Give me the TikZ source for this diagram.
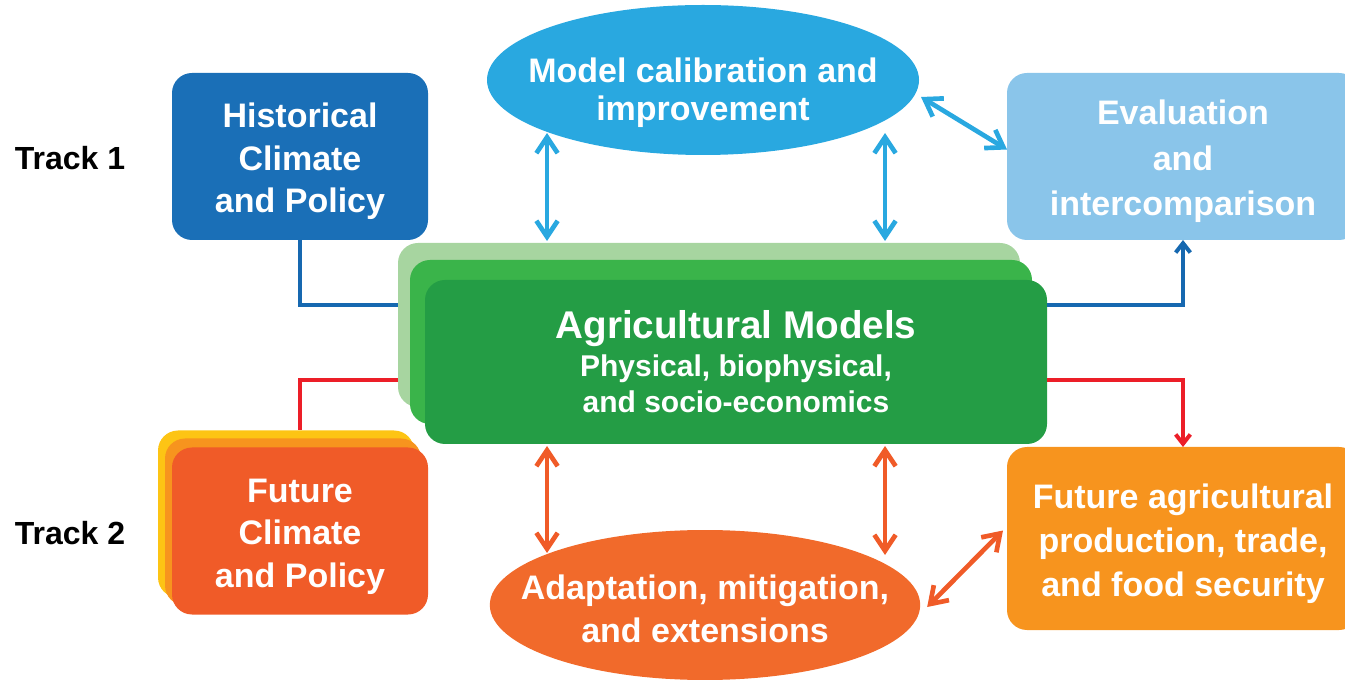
\documentclass[tikz,border=0pt]{standalone}
\usepackage{fontspec}
\setmainfont{Liberation Sans}
\usetikzlibrary{arrows.meta,calc,shapes.geometric}

\definecolor{histblue}{RGB}{26,111,183}
\definecolor{calibblue}{RGB}{41,168,224}
\definecolor{evalblue}{RGB}{138,197,234}
\definecolor{greenA}{RGB}{167,213,160}
\definecolor{greenB}{RGB}{58,180,74}
\definecolor{greenC}{RGB}{36,157,69}
\definecolor{yellowF}{RGB}{253,196,20}
\definecolor{orangeF}{RGB}{247,148,30}
\definecolor{redF}{RGB}{240,91,40}
\definecolor{adaptorange}{RGB}{241,106,43}
\definecolor{linkblue}{RGB}{22,104,176}
\definecolor{linkred}{RGB}{236,30,40}

\newcommand{\boxfont}{\bfseries\fontsize{25.5pt}{32pt}\selectfont}
\newcommand{\lowtext}{\rule{0pt}{26pt}}

\begin{document}
\begin{tikzpicture}[line cap=round,line join=round,>={Straight Barb[length=12pt,width=16pt]},x=0.75pt,y=-0.75pt,
	panel/.style={rounded corners=15pt,inner sep=0pt,outer sep=0pt,text=white,align=center,font=\boxfont,minimum width=192pt,minimum height=125.25pt},
	oval/.style={ellipse,inner ysep=0pt,outer sep=0pt,text=white,align=center,font=\boxfont,minimum width=322.5pt,minimum height=112.5pt},
	sheet/.style={rounded corners=15pt,inner sep=0pt,outer sep=0pt,minimum width=466.5pt,minimum height=123pt},
	track/.style={font=\bfseries\fontsize{24pt}{28pt}\selectfont},
	twoway/.style={<->,line width=3.5pt},
	link/.style={line width=3pt,line cap=butt,line join=miter},
	linktip/.style={-{Straight Barb[length=7pt,width=11pt]}}]
			\useasboundingbox (0,0) rectangle (1345,680);
			% left labels
			\node[track] (track1) at (70,158) {Track 1};
			\node[track] (track2) at (70,533) {Track 2};
			% track boxes
			\node[panel,fill=histblue] (hist) at (300,156.5) {\lowtext Historical\\Climate\\and Policy};
			\node[panel,fill=yellowF] (future1) at (286,514) {};
			\node[panel,fill=orangeF] (future2) at (293,522) {};
			\node[panel,fill=redF] (future3) at (300,531) {\lowtext Future\\Climate\\and Policy};
			% model stack
			\node[sheet,fill=greenA] (models1) at (709,325) {};
			\node[sheet,fill=greenB] (models2) at (721,342) {};
			\node[sheet,fill=greenC,text=white,align=center,font=\bfseries\fontsize{22.5pt}{27pt}\selectfont] (models3) at (736,362) {{\fontsize{29pt}{34pt}\selectfont Agricultural Models}\\[1.5pt]Physical, biophysical,\\and socio-economics};
			% ovals
			\node[oval,fill=calibblue,inner xsep=-16.5pt] (calib) at (703,80) {\rule{0pt}{38pt}Model calibration and\\[-3.5pt]improvement};
			\node[oval,fill=adaptorange,inner xsep=-24pt] (adapt) at (705,605) {\rule{0pt}{24.5pt}Adaptation, mitigation,\\and extensions};
			% outcome boxes
			\node[panel,fill=evalblue,minimum width=264pt,font=\bfseries\fontsize{25.5pt}{34pt}\selectfont] (eval) at (1183,156.5) {\lowtext Evaluation\\and\\intercomparison};
			\node[panel,fill=orangeF,minimum width=264pt,minimum height=137.25pt,font=\bfseries\fontsize{25.5pt}{33pt}\selectfont] (foodsec) at (1183,538.5) {\lowtext Future agricultural\\production, trade,\\and food security};
			% links
			\draw[link,linkblue] (hist.south) |- ($(models1.west)+(0,-20)$);
			\draw[link,linkred] ($(models1.west)+(0,55)$) -| (future3.north |- future1.north);
			\draw[link,linkblue,linktip] ($(models3.east)+(0,-57)$) -| (eval.south);
			\draw[link,linkred,linktip] ($(models3.east)+(0,18)$) -| (foodsec.north);
			% two-way arrows
			\draw[twoway,calibblue] ($(calib.south)+(-156,-22)$) -- ($(models1.north)+(-162,-2)$);
			\draw[twoway,calibblue] ($(calib.south)+(182,-22)$) -- ($(models1.north)+(176,-2)$);
			\draw[twoway,calibblue] ($(calib.east)+(2,17)$) -- ($(eval.west)+(0,-7)$);
			\draw[twoway,redF] ($(models3.south)+(-189,2)$) -- ($(adapt.north)+(-158,23)$);
			\draw[twoway,redF] ($(models3.south)+(149,2)$) -- ($(adapt.north)+(180,25)$);
			\draw[twoway,redF] ($(adapt.east)+(7,2)$) -- ($(foodsec.west)+(-4,-8)$);
		\end{tikzpicture}
\end{document}
